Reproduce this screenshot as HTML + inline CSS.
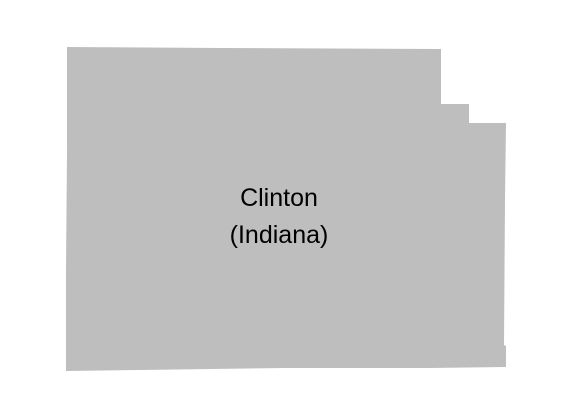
<!DOCTYPE html>
<html><head><meta charset="utf-8"><style>body{margin:0;background:#fff}svg{display:block}</style></head>
<body>
<svg width="572" height="419">
<polygon fill="#bebebe" points="67,47 222,48 441,49 441,104 469,104 469,123 506,123 505,200 504,345 506,346 506,367 430,368 285,368 140,370 66,371 66,270 67,150"/>
<text x="279" y="206" text-anchor="middle" font-family="Liberation Sans, sans-serif" font-size="25" fill="#000">Clinton</text>
<text x="279" y="243" text-anchor="middle" font-family="Liberation Sans, sans-serif" font-size="25" fill="#000">(Indiana)</text>
</svg>
</body></html>
